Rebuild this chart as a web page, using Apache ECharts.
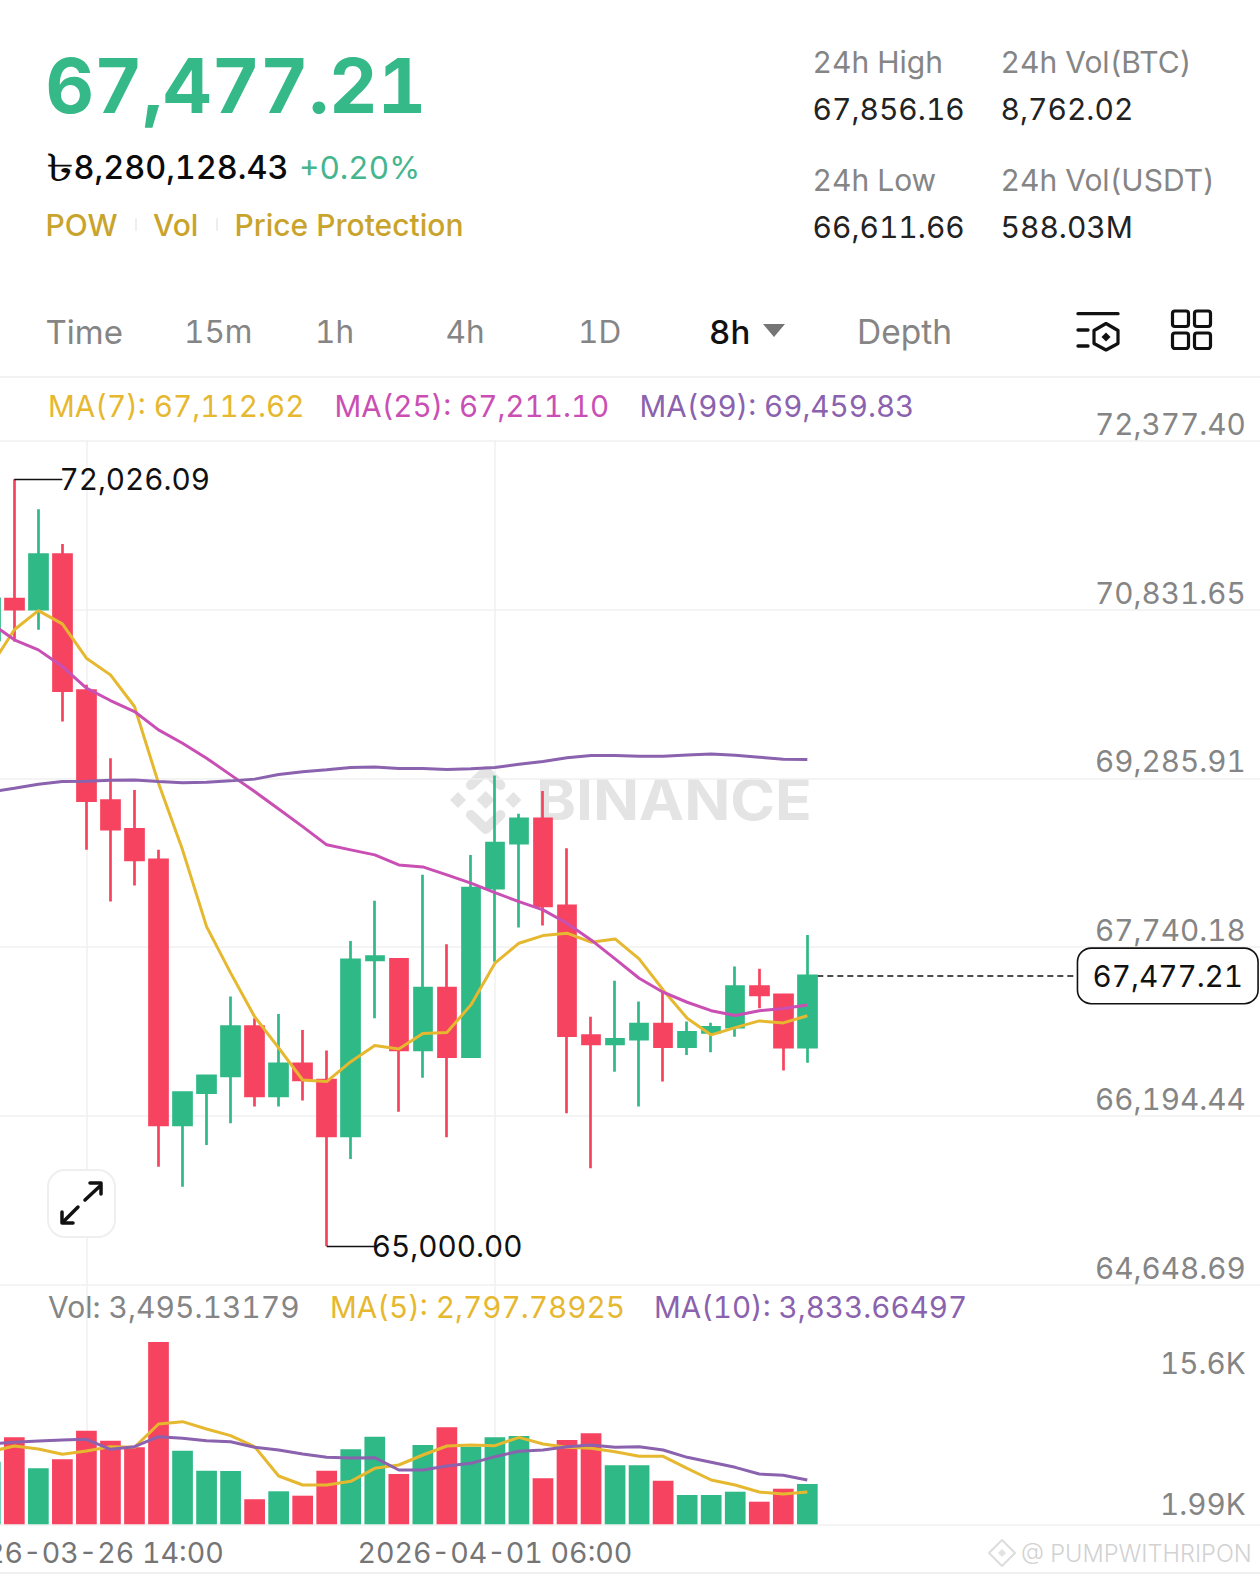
<!DOCTYPE html>
<html>
<head>
<meta charset="utf-8">
<style>html,body{margin:0;padding:0;background:#fff}#chart{width:1260px;height:1578px}
svg text{font-variant-numeric:tabular-nums;font-feature-settings:"tnum" 1}</style>
<script src="https://cdn.jsdelivr.net/npm/echarts@6/dist/echarts.min.js"></script>
</head>
<body>
<div id="chart"></div>
<script>
const categories = [
'2026-03-25 06:00','2026-03-25 14:00','2026-03-25 22:00','2026-03-26 06:00','2026-03-26 14:00','2026-03-26 22:00','2026-03-27 06:00','2026-03-27 14:00','2026-03-27 22:00',
'2026-03-28 06:00','2026-03-28 14:00','2026-03-28 22:00','2026-03-29 06:00','2026-03-29 14:00','2026-03-29 22:00','2026-03-30 06:00','2026-03-30 14:00','2026-03-30 22:00',
'2026-03-31 06:00','2026-03-31 14:00','2026-03-31 22:00','2026-04-01 06:00','2026-04-01 14:00','2026-04-01 22:00','2026-04-02 06:00','2026-04-02 14:00','2026-04-02 22:00',
'2026-04-03 06:00','2026-04-03 14:00','2026-04-03 22:00','2026-04-04 06:00','2026-04-04 14:00','2026-04-04 22:00','2026-04-05 06:00','2026-04-05 14:00',
'2026-04-05 22:00','2026-04-06 06:00','2026-04-06 14:00','2026-04-06 22:00','2026-04-07 06:00','2026-04-07 14:00','2026-04-07 22:00','2026-04-08 06:00','2026-04-08 14:00',
'2026-04-08 22:00','2026-04-09 06:00','2026-04-09 14:00','2026-04-09 22:00','2026-04-10 06:00','2026-04-10 14:00','2026-04-10 22:00','2026-04-11 06:00','2026-04-11 14:00','2026-04-11 22:00'];
const timeLabels = ['2026-03-26 14:00','2026-04-01 06:00'];
// [open, close, low, high]
const candles = [
[70556,70931,70464,71014],[70929,70837,70540,72026.09],[70837,71337,70648,71753],[71337,70091,69807,71435],[70091,69083,68632,70144],
[69083,68821,68158,69472],[68821,68540,68305,69181],[68540,66112,65730,68632],[66112,66408,65547,66417],[66408,66561,65929,66570],
[66561,67013,66128,67288],[67013,66378,66280,67090],[66378,66671,66280,67129],[66671,66524,66335,66982],[66524,66011,65000,66793],
[66011,67624,65801,67798],[67624,67654,67090,68167],[67630,66799,66234,67639],[66799,67365,66545,68403],[67365,66738,65999,67768],
[66738,68281,66729,68586],[68281,68693,67608,69313],[68693,68916,67920,68962],[68916,68119,67938,69172],[68119,66930,66219,68647],
[66930,66854,65715,67104],[66854,66897,66600,67432],[66897,67037,66280,67242],[67037,66830,66509,67349],[66830,66961,66753,67059],
[66961,67007,66778,67049],[67007,67379,66921,67563],[67379,67303,67181,67542],[67303,66824,66610,67303],[66824,67477.21,66683,67853]];
const ma7 = [70308,70648,70824,70702,70388,70235,69945,69243,68632,67929,67505,67104,66818,66524,66509,66692,66839,66808,66950,66958,67212,67594,67777,67847,67869,67786,67816,67633,67349,67090,66937,67004,67065,67047,67112.62];
const ma25 = [70712,70556,70464,70311,70113,70000,69899,69731,69609,69472,69319,69166,69007,68845,68678,68632,68586,68494,68476,68403,68327,68240,68158,68082,67960,67807,67633,67456,67328,67236,67159,67114,67159,67178,67211.10];
const ma99 = [69163,69197,69234,69258,69261,69270,69273,69258,69246,69252,69264,69280,69322,69347,69365,69386,69390,69377,69377,69368,69374,69386,69417,69441,69475,69496,69496,69490,69490,69502,69511,69499,69481,69463,69459.83];
const volumes = [5427,7543,4855,5636,8115,7248,6676,15805,6381,4647,4621,2168,2861,2480,4647,6503,7595,4361,6875,8410,6728,7543,7656,3988,7309,7890,5115,5115,3780,2540,2540,2826,1959,3086,3495.13];
const volMa5 = [6298,6789,6529,6066,6355,6731,6673,8696,8898,8263,7685,6731,4188,3407,3407,3725,4852,5141,6009,6789,6875,6818,7540,6962,6673,6586,6298,5893,5893,4852,3841,3407,2801,2627,2797.79];
const volMa10 = [6962,7107,7222,7309,7367,6500,6731,7598,7453,7251,7164,6673,6442,6095,5806,5748,5777,4708,4708,5055,5286,5864,6326,6442,6731,6875,6673,6731,6442,5806,5373,4939,4361,4246,3833.66];
const priceTickLabels = ['64,648.69','66,194.44','67,740.18','69,285.91','70,831.65','72,377.40'];
const priceMin = 64648.69, priceMax = 72377.40, priceStep = 1545.742;
const volTickLabels = ['1.99K','15.6K'];
const volTickPositions = [1760,13985];
const lastPrice = 67477.21, lastPriceText = '67,477.21';
const highPrice = 72026.09, highText = '72,026.09', highIndex = 1;
const lowPrice = 65000, lowText = '65,000.00', lowIndex = 14;
const lastIndex = 34, lastLineEnd = 47, lastTagIndex = 49;

const UP='#2fb986', DOWN='#f6435f', GOLD='#e6b82f', PINK='#c94fb4', PURPLE='#8a62ae';
const FONT='Inter', GRID='#f1f1f1', GRAY='#858585';
const band=24.03, gridLeft=-21.72, gridWidth=band*categories.length;

function T(text,x,y,size,fill,weight,z,family,extra){
  return Object.assign({type:'text',x:x,y:y,z:z==null?20:z,silent:true,style:{text:text,fill:fill,fontSize:size,fontFamily:family||FONT,fontWeight:weight||400,align:'left',verticalAlign:'middle'}},extra||{});
}
const L=(x1,y1,x2,y2,c,w,z)=>({type:'line',z:z==null?20:z,silent:true,shape:{x1,y1,x2,y2},style:{stroke:c,lineWidth:w,lineCap:'round'}});
const P=(pts,c,w,z)=>({type:'polyline',z:z==null?20:z,silent:true,shape:{points:pts},style:{stroke:c,lineWidth:w,fill:null,lineJoin:'round',lineCap:'round'}});
const D=(cx,cy,r,c,z)=>({type:'polygon',z:z==null?20:z,silent:true,shape:{points:[[cx-r,cy],[cx,cy-r],[cx+r,cy],[cx,cy+r]]},style:{fill:c}});
const R=(x,y,w,h,r,st,z)=>({type:'rect',z:z==null?20:z,silent:true,shape:{x,y,width:w,height:h,r},style:st});

const gfx=[
 T('67,477.21',45.5,85,75.2,'#35b988',700),
 T('\u09F3',45.5,167,38,'#0b0b0b',500,20,'Inter, Noto Sans, DejaVu Sans',{scaleX:1.5}),
 T('8,280,128.43',73.5,167,32.4,'#0b0b0b',500),
 T('+0.20%',299,167,31.5,'#45b58e',400),
 T('POW',45.5,225,30,'#c9a42d',500), T('Vol',153,225,30,'#c9a42d',500), T('Price Protection',234.5,225,30,'#c9a42d',500),
 L(136,219,136,230,'#eeeeee',2), L(217,219,217,230,'#eeeeee',2),
 T('24h High',812.5,62,30,GRAY), T('67,856.16',812.5,109,30,'#222'),
 T('24h Vol(BTC)',1000.5,62,30,GRAY), T('8,762.02',1000.5,109,30,'#222'),
 T('24h Low',812.5,180,30,GRAY), T('66,611.66',812.5,227,30,'#222'),
 T('24h Vol(USDT)',1000.5,180,30,GRAY), T('588.03M',1000.5,227,30,'#222'),
 T('Time',45.5,331.5,33,GRAY), T('15m',184,331.5,31.5,GRAY), T('1h',315,331.5,31.5,GRAY), T('4h',445.5,331.5,31.5,GRAY), T('1D',578,331.5,31.5,GRAY),
 T('8h',709,331.5,33,'#111',500), T('Depth',857,331.5,33.5,GRAY),
 {type:'polygon',z:20,silent:true,shape:{points:[[763,324],[785,324],[774,337]]},style:{fill:'#757575'}},
 L(1078,313.7,1118,313.7,'#111',3.3), L(1078,330,1088,330,'#111',3.3), L(1078,346,1088,346,'#111',3.3),
 {type:'polygon',z:20,silent:true,shape:{points:[[1106,323.5],[1118,330.5],[1118,343.5],[1106,350],[1094,343.5],[1094,330.5]]},style:{stroke:'#111',lineWidth:3.2,fill:'#fff',lineJoin:'round'}},
 D(1106,337,4.5,'#111'),
 R(1172.5,311,16,15.5,2.5,{stroke:'#111',lineWidth:3.2,fill:'none'}), R(1194.5,311,16,15.5,2.5,{stroke:'#111',lineWidth:3.2,fill:'none'}),
 R(1172.5,333,16,15.5,2.5,{stroke:'#111',lineWidth:3.2,fill:'none'}), R(1194.5,333,16,15.5,2.5,{stroke:'#111',lineWidth:3.2,fill:'none'}),
 L(0,377,1260,377,'#f2f2f2',2), L(0,1573,1260,1573,'#f0f0f0',2),
 T('MA(7): 67,112.62',48,406,29.7,GOLD), T('MA(25): 67,211.10',334.5,406,29.6,PINK), T('MA(99): 69,459.83',639.5,406,29.6,PURPLE),
 T('Vol: 3,495.13179',48,1307,30,GRAY), T('MA(5): 2,797.78925',330,1307,29.7,GOLD), T('MA(10): 3,833.66497',654,1307,29.6,PURPLE),
 T('BINANCE',536,800,56,'#e4e4e4',700,-1,null,{scaleX:1.08}),
 D(485.7,800,9,'#e4e4e4',-1), D(458,800,8,'#e4e4e4',-1), D(513.4,800,8,'#e4e4e4',-1),
 P([[471,785],[485.7,771],[500.4,785]],'#e4e4e4',10,-1), P([[471,815],[485.7,829],[500.4,815]],'#e4e4e4',10,-1),
 R(48,1170,67,67,17,{stroke:'#efefef',lineWidth:2,fill:'#fff'},19),
 L(85,1200,100,1186,'#111',3.5), P([[90,1183],[101,1183],[101,1194]],'#111',3.5),
 L(78,1207,63,1222,'#111',3.5), P([[62,1212],[62,1223],[73,1223]],'#111',3.5),
 T('@ PUMPWITHRIPON',1021,1553,23.6,'#d2d2d2',300,20),
 P([[989,1553],[1002,1540],[1015,1553],[1002,1566],[989,1553]],'#dddddd',2), D(1002,1553,4,'#e2e2e2'),
];

const lastLine = [[categories[lastIndex],lastPrice],[categories[lastLineEnd],lastPrice]];
const showTime = (i,v)=>timeLabels.includes(v);
const option = {
 animation:false, backgroundColor:'#fff',
 grid:[
  {left:gridLeft,top:441,width:gridWidth,height:843.7,outerBoundsMode:'none',containLabel:false},
  {left:gridLeft,top:1285,width:gridWidth,height:239.3,outerBoundsMode:'none',containLabel:false}
 ],
 xAxis:[
  {type:'category',gridIndex:0,data:categories,boundaryGap:true,axisLine:{show:false},axisTick:{show:false},axisLabel:{show:false},
   splitLine:{show:true,alignWithLabel:true,interval:showTime,lineStyle:{color:GRID,width:1.5}}},
  {type:'category',gridIndex:1,data:categories,boundaryGap:true,axisLine:{show:true,lineStyle:{color:GRID,width:1.5}},axisTick:{show:false},
   axisLabel:{show:true,interval:showTime,color:'#757575',fontSize:28.6,fontFamily:FONT,margin:14,hideOverlap:false},
   splitLine:{show:true,alignWithLabel:true,interval:showTime,lineStyle:{color:GRID,width:1.5}}}
 ],
 yAxis:[
  {type:'value',gridIndex:0,position:'right',min:priceMin,max:priceMax,interval:priceStep,scale:true,
   axisLine:{show:false},axisTick:{show:false},
   axisLabel:{inside:true,margin:30.2,color:GRAY,fontSize:29.7,fontFamily:FONT,verticalAlign:'bottom',padding:[0,0,2,0],formatter:(v,i)=>priceTickLabels[i]},
   splitLine:{show:true,lineStyle:{color:GRID,width:1.5}}},
  {type:'value',gridIndex:1,position:'right',min:0,max:20747,
   axisLine:{show:false},axisTick:{show:false},splitLine:{show:false},
   axisLabel:{inside:true,margin:30.2,color:GRAY,fontSize:29.7,fontFamily:FONT,verticalAlign:'middle',customValues:volTickPositions,formatter:(v,i)=>volTickLabels[volTickPositions.indexOf(v)]}}
 ],
 series:[
  {name:'Price',type:'candlestick',xAxisIndex:0,yAxisIndex:0,z:2,barWidth:18,data:candles,
   itemStyle:{color:UP,color0:DOWN,borderColor:UP,borderColor0:DOWN,borderWidth:2.7},
   markLine:{silent:true,symbol:['none','none'],animation:false,precision:2,
    lineStyle:{color:'#111',type:'solid',width:1.4},
    label:{show:true,position:'end',distance:-3,padding:[8,0,0,0],color:'#111',fontSize:29.7,fontFamily:FONT,formatter:p=>p.name},
    emphasis:{disabled:true},
    data:[
     [{coord:[categories[highIndex],highPrice],name:highText},{coord:[categories[highIndex+2],highPrice]}],
     [{coord:[categories[lowIndex],lowPrice],name:lowText},{coord:[categories[lowIndex+2],lowPrice]}]
    ]}},
  {name:'MA(7)',type:'line',xAxisIndex:0,yAxisIndex:0,z:4,data:ma7,showSymbol:false,smooth:false,lineStyle:{color:GOLD,width:3}},
  {name:'MA(25)',type:'line',xAxisIndex:0,yAxisIndex:0,z:4,data:ma25,showSymbol:false,lineStyle:{color:PINK,width:3}},
  {name:'MA(99)',type:'line',xAxisIndex:0,yAxisIndex:0,z:4,data:ma99,showSymbol:false,lineStyle:{color:PURPLE,width:3}},
  {name:'Last',type:'line',xAxisIndex:0,yAxisIndex:0,z:1,data:lastLine,showSymbol:false,
   lineStyle:{color:'#111',type:[6,4],width:1.4},
   markPoint:{silent:true,symbol:'circle',symbolSize:0,animation:false,
    label:{show:true,position:'inside',formatter:lastPriceText,color:'#111',fontSize:29.7,fontFamily:FONT,backgroundColor:'#fff',borderColor:'#111',borderWidth:1.6,borderRadius:13,width:179,height:54,lineHeight:54,align:'center',verticalAlign:'middle'},
    data:[{coord:[categories[lastTagIndex],lastPrice]}]}},
  {name:'Vol',type:'bar',xAxisIndex:1,yAxisIndex:1,z:2,barWidth:20.7,
   data:volumes.map((v,i)=>({value:v,itemStyle:{color:candles[i][1]>=candles[i][0]?UP:DOWN}}))},
  {name:'MA(5)',type:'line',xAxisIndex:1,yAxisIndex:1,z:4,data:volMa5,showSymbol:false,lineStyle:{color:GOLD,width:3}},
  {name:'MA(10)',type:'line',xAxisIndex:1,yAxisIndex:1,z:4,data:volMa10,showSymbol:false,lineStyle:{color:PURPLE,width:3}}
 ],
 graphic:{elements:gfx}
};
const chart = echarts.init(document.getElementById('chart'),null,{renderer:'svg'});
chart.setOption(option);
</script>
</body>
</html>
